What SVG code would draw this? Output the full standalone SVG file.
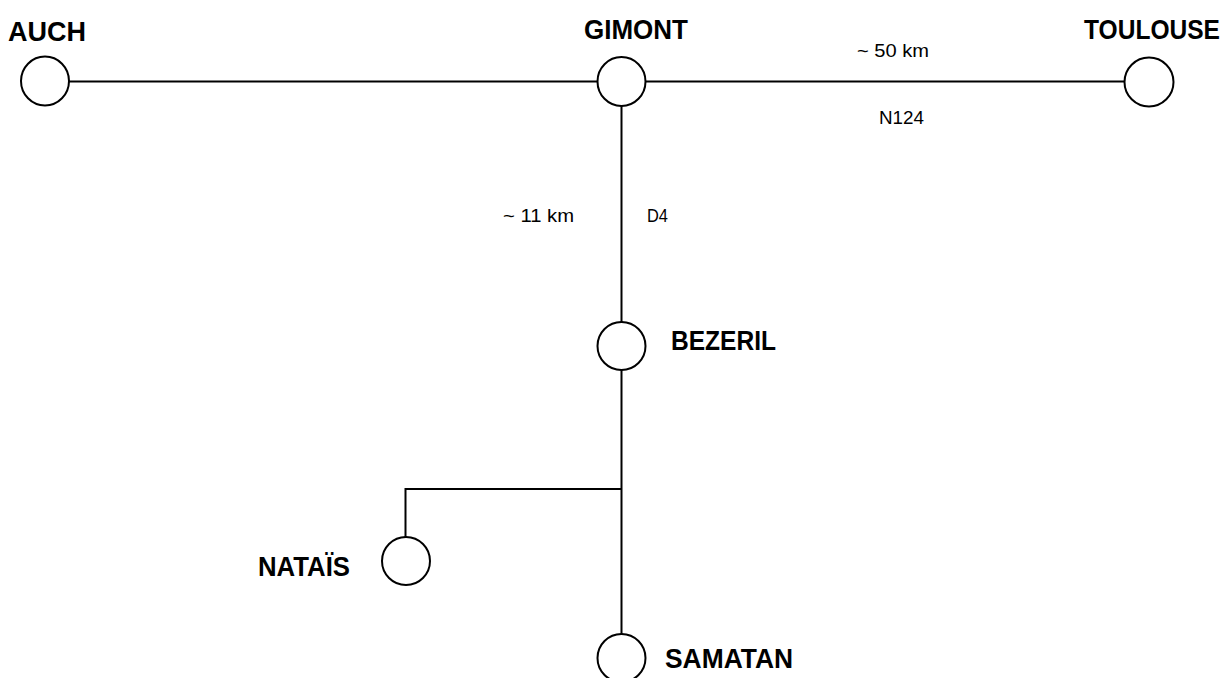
<svg xmlns="http://www.w3.org/2000/svg" width="1230" height="678" viewBox="0 0 1230 678">
<style>
.node{fill:#fff;stroke:#000;stroke-width:2}
.edge{fill:none;stroke:#000;stroke-width:2}
.name{font-family:"Liberation Sans",Arial,sans-serif;font-weight:bold;font-size:27.5px;fill:#000}
.lbl{font-family:"Liberation Sans",Arial,sans-serif;font-size:19px;fill:#000}
</style>
<rect width="1230" height="678" fill="#fff"/>
<g id="connectors">
<line class="edge" x1="69" y1="81.5" x2="597" y2="81.5"/>
<line class="edge" x1="645" y1="81.5" x2="1125" y2="81.5"/>
<line class="edge" x1="621.5" y1="105.5" x2="621.5" y2="322"/>
<line class="edge" x1="621.5" y1="370" x2="621.5" y2="634"/>
<polyline class="edge" points="621.5,489 405.5,489 405.5,537"/>
<text class="lbl" x="857" y="57" textLength="72" lengthAdjust="spacingAndGlyphs">~ 50 km</text>
<text class="lbl" x="879" y="124" textLength="45" lengthAdjust="spacingAndGlyphs">N124</text>
<text class="lbl" x="503" y="222" textLength="71" lengthAdjust="spacingAndGlyphs">~ 11 km</text>
<text class="lbl" x="647" y="222" textLength="21" lengthAdjust="spacingAndGlyphs">D4</text>
</g>
<g id="auch">
<ellipse class="node" cx="45" cy="81" rx="24" ry="24.5"/>
<text class="name" x="8" y="40.5" textLength="78" lengthAdjust="spacingAndGlyphs">AUCH</text>
</g>
<g id="gimont">
<ellipse class="node" cx="621.5" cy="81.5" rx="24" ry="24.5"/>
<text class="name" x="584" y="38.5" textLength="104" lengthAdjust="spacingAndGlyphs">GIMONT</text>
</g>
<g id="toulouse">
<ellipse class="node" cx="1149" cy="82" rx="24.5" ry="24.5"/>
<text class="name" x="1084" y="38.5" font-size="24.5" textLength="136" lengthAdjust="spacingAndGlyphs">TOULOUSE</text>
</g>
<g id="bezeril">
<ellipse class="node" cx="621.5" cy="346" rx="24" ry="24"/>
<text class="name" x="671" y="350" textLength="105" lengthAdjust="spacingAndGlyphs">BEZERIL</text>
</g>
<g id="natais">
<ellipse class="node" cx="406" cy="561" rx="24" ry="24"/>
<text class="name" x="258" y="575.5" textLength="92" lengthAdjust="spacingAndGlyphs">NATAÏS</text>
</g>
<g id="samatan">
<ellipse class="node" cx="621.5" cy="658" rx="24" ry="24"/>
<text class="name" x="665" y="668" textLength="128" lengthAdjust="spacingAndGlyphs">SAMATAN</text>
</g>
</svg>
